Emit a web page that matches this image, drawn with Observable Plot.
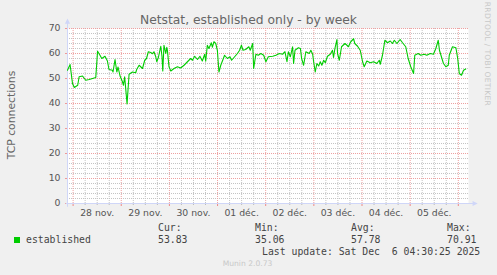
<!DOCTYPE html>
<html><head><meta charset="utf-8">
<script src="https://cdn.jsdelivr.net/npm/d3@7"></script>
<script src="https://cdn.jsdelivr.net/npm/@observablehq/plot@0.6"></script>
<style>
html,body{margin:0;padding:0;background:#f0f0f0;}
#wrap{position:relative;width:497px;height:275px;overflow:hidden;font-family:"DejaVu Sans";}
#wrap svg{position:absolute;left:0;top:0;}
.t{position:absolute;line-height:normal;white-space:pre;}
.mono{font-family:"DejaVu Sans Mono";}
</style></head><body><div id="wrap"></div>
<script>
// ---- data (hours since 28 Nov 2025 00:00 UTC, TCP connections) ----
const hours = [-2.8,-1.5,-0.3,0.6,2.3,3,4.7,6.3,8,9.7,11.3,12.2,13.4,14.3,15.9,17.1,17.9,19.6,19.9,20.9,21.8,22.4,23.4,24.6,25.1,25.7,26.9,27.9,29.6,31.2,31.7,32.9,34.6,35.7,36.6,37.5,38.7,39.5,40.3,41.2,41.7,42.5,43.7,44.3,44.7,45.3,46.2,46.7,47,47.8,48.7,50.3,52,53.6,55.3,57,58.6,59.5,60.6,62,63.2,64.4,65.6,66.1,66.9,67.7,68.9,69.4,70.2,71.1,71.9,72.7,73.6,74.9,75.5,76.9,78.2,79,80.2,81.9,83,83.9,84.7,86,87.6,88.3,89.5,90,91.1,92.3,93.6,95,96.1,97.3,99.5,101.1,102.8,104.4,105.6,106.6,107.3,108.3,109.4,109.9,110.6,112.3,113.3,113.9,114.9,116,117.7,118.5,119.4,119.9,120.7,121.5,122.4,123.2,124,124.9,125.7,126.8,128.2,129.3,129.8,130.5,131.5,131.8,132.7,133.8,135.5,136.5,137.2,138.4,139.8,140.4,141.8,143.1,144.3,145.1,146.4,148.1,149.8,151.4,152.6,153.1,154.2,155.4,156.7,158.1,159.2,160.1,161.4,163,164.2,165.8,167,168.3,169.7,170.3,172,173.3,175,176.3,178,179.6,180.8,182,182.6,184.6,185.8,187,187.5,189.1,190.8,191.7,192.5,193.6,194.6,195.7];
const values = [53.3,55.6,48,46.4,47.3,50.7,51,49.3,49.6,50,50.4,60.9,59.3,58,58.9,57,53.6,53.3,52.6,57.6,52.6,54.6,51,48.7,47.3,50.7,39.8,51.7,52.6,52.3,53.6,55.3,54,57.3,58,60.7,60.4,59.9,60.7,58.7,56.7,58.4,62.9,58.9,53,63.3,60,62.5,61.3,54.7,53,54,54.7,54.2,55.3,56.7,58,57.3,58.9,57.6,58.9,57,59.7,56.9,63.3,62,64.3,62.5,64.7,64,61.3,52.6,55.3,58,59.3,58,58.7,57.3,58.4,60,61.3,63.3,61.3,61.6,62.7,61.3,64,54,59.7,59.3,60,59.3,56.7,58.7,58.9,59.3,60,59.7,60.7,56.7,60.7,58.7,62.7,56,61.3,62.3,62,58,55.3,60.7,60,61.3,59.7,56.7,52.6,56,55,56.7,55.3,57.3,56.3,58.9,59.7,61.3,58.4,62,65.6,60,57.3,62.7,64,63.3,62.7,64.7,65.9,64,62.9,61.3,56.7,54.7,57,56.3,56.7,56,57.3,55.7,59.3,65.3,64.3,65,64,65.3,64,65.6,64.3,62.7,58,54.7,52,59.3,60,59.3,59.7,59.3,60,59.7,62,65.3,61.3,56,54.7,55.3,59.3,62.7,62.3,58,52,51.3,53.3,53.83];
const dayLabels = ["28 nov.","29 nov.","30 nov.","01 déc.","02 déc.","03 déc.","04 déc.","05 déc."];
const yTicks = [0,10,20,30,40,50,60,70];
const titleText = "Netstat, established only - by week";
const yLabel = "TCP connections";
const seriesName = "established";
const statLabels = ["Cur:","Min:","Avg:","Max:"];
const statValues = ["53.83","35.06","57.78","70.91"];
const lastUpdate = "Last update: Sat Dec  6 04:30:25 2025";
const footer = "Munin 2.0.73";
const sideText = "RRDTOOL / TOBI OETIKER";

// ---- chart ----
const H = 3600e3;
const base = Date.UTC(2025, 10, 28);
const T = h => new Date(base + h * H);
const data = hours.map((h, i) => ({t: T(h), v: values[i]}));
const xDomain = [T(-2.79), T(197.08)];
const majorX = d3.range(0, 193, 24).map(T);
const minorX = d3.range(6, 192, 6).filter(h => h % 24).map(T);
const minorY = d3.range(2, 70, 2).filter(v => v % 10);
const noon = dayLabels.map((_, i) => T(i * 24 + 12));
const labelByTime = new Map(noon.map((d, i) => [+d, dayLabels[i]]));

const upArrow = {draw(ctx, size) {const s = Math.sqrt(size / Math.PI); ctx.moveTo(0, -s * 1.3); ctx.lineTo(s, s * 0.7); ctx.lineTo(-s, s * 0.7); ctx.closePath();}};
const rightArrow = {draw(ctx, size) {const s = Math.sqrt(size / Math.PI); ctx.moveTo(s * 1.3, 0); ctx.lineTo(-s * 0.7, s); ctx.lineTo(-s * 0.7, -s); ctx.closePath();}};

const axisCol = "#cfd6f8";
const majorCol = "#eea0a0";
const minorCol = "#c4c4c4";
const xArrowTip = T(200.0);
const yArrowTop = 72.6;

const chart = Plot.plot({
  width: 497, height: 222,
  marginLeft: 67, marginRight: 29, marginTop: 28, marginBottom: 19,
  style: {background: "transparent", fontFamily: "DejaVu Sans", overflow: "visible"},
  x: {type: "utc", domain: xDomain},
  y: {domain: [0, 70]},
  marks: [
    Plot.frame({fill: "white", stroke: null}),
    Plot.ruleY(minorY, {stroke: minorCol, strokeDasharray: "1,1"}),
    Plot.ruleX(minorX, {stroke: minorCol, strokeDasharray: "1,1"}),
    Plot.ruleY(yTicks.filter(v => v > 0), {stroke: majorCol, strokeDasharray: "1,1"}),
    Plot.ruleX(majorX, {stroke: majorCol, strokeDasharray: "1,1"}),
    Plot.axisX({ticks: minorX, tickSize: 2, tickFormat: () => "", stroke: "#bbbbbb", label: null}),
    Plot.axisX({ticks: majorX, tickSize: 3, tickFormat: () => "", stroke: "#ee8888", label: null}),
    Plot.axisX({ticks: noon, tickSize: 0, tickPadding: 6, tickFormat: d => labelByTime.get(+d), fontSize: 9.3, fill: "#555", label: null}),
    Plot.axisY({ticks: yTicks, tickSize: 2, tickPadding: 5, stroke: "#ee9999", fill: "#555", fontSize: 9.3, label: null}),
    Plot.ruleY([0], {x1: T(-3.4), x2: xArrowTip, stroke: axisCol}),
    Plot.ruleX([xDomain[0]], {y1: -1.5, y2: yArrowTop, stroke: axisCol}),
    Plot.dot([0], {x: () => xArrowTip, y: 0, symbol: rightArrow, r: 2.6, fill: axisCol, stroke: null}),
    Plot.dot([0], {x: () => xDomain[0], y: yArrowTop, symbol: upArrow, r: 2.6, fill: axisCol, stroke: null}),
    Plot.line(data, {x: "t", y: "v", stroke: "#00cc00", strokeWidth: 1.1})
  ]
});

const wrap = document.getElementById("wrap");
wrap.appendChild(chart);

function addText(txt, x, baseline, size, color, opts = {}) {
  const d = document.createElement("div");
  d.className = "t" + (opts.mono ? " mono" : "");
  d.textContent = txt;
  d.style.fontSize = size + "px";
  d.style.color = color;
  d.style.top = (baseline - 0.928 * size) + "px";
  d.style.left = x + "px";
  if (opts.center) d.style.transform = "translateX(-50%)";
  wrap.appendChild(d);
  return d;
}

addText(titleText, 248.5, 24, 12.3, "#666", {center: true});

// rotated y label
const yl = document.createElement("div");
yl.className = "t";
yl.textContent = yLabel;
yl.style.fontSize = "10.8px";
yl.style.color = "#666";
yl.style.left = "11px";
yl.style.top = "115px";
yl.style.transform = "translate(-50%,-50%) rotate(-90deg)";
wrap.appendChild(yl);

// side credit
const sc = document.createElement("div");
sc.className = "t";
sc.textContent = sideText;
sc.style.fontSize = "7.6px";
sc.style.letterSpacing = "0.3px";
sc.style.color = "#c8c8c8";
sc.style.left = "487px";
sc.style.top = "54px";
sc.style.transform = "translate(-50%,-50%) rotate(90deg)";
wrap.appendChild(sc);

// legend
const sq = document.createElement("div");
sq.style.cssText = "position:absolute;left:14px;top:237px;width:6px;height:6px;background:#00cc00;";
wrap.appendChild(sq);
addText(seriesName, 26, 243.3, 9.8, "#444", {mono: true});
const statX = [158, 255, 351, 447];
statLabels.forEach((s, i) => {
  addText(s, statX[i], 231.5, 9.8, "#444", {mono: true});
  addText(statValues[i], statX[i], 243.3, 9.8, "#444", {mono: true});
});
addText(lastUpdate, 262, 255, 9.8, "#444", {mono: true});
addText(footer, 247.5, 266, 7.6, "#c8c8c8", {center: true});
</script></body></html>
